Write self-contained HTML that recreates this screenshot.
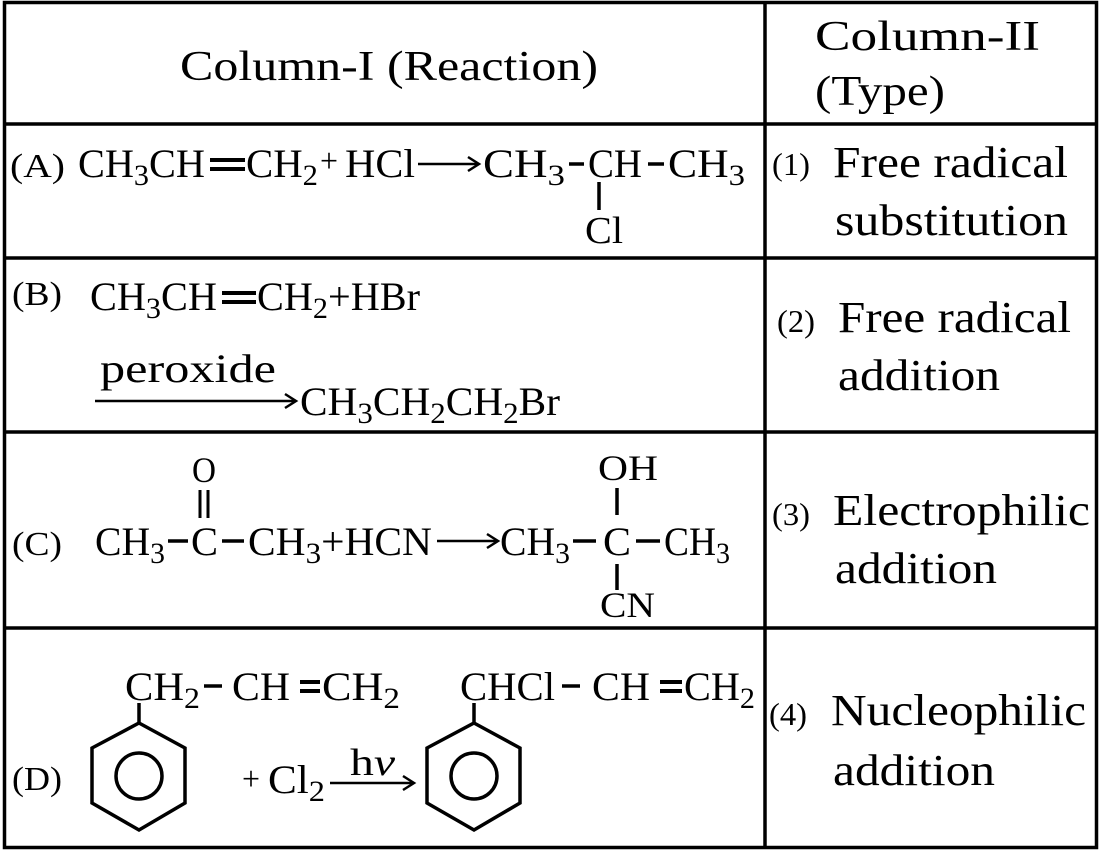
<!DOCTYPE html>
<html><head><meta charset="utf-8"><style>
html,body{margin:0;padding:0;background:#fff;}
svg{display:block;}
text{font-family:"Liberation Serif","Times New Roman",Times,serif;fill:#000;}
</style></head><body>
<svg width="1101" height="851" viewBox="0 0 1101 851" xmlns="http://www.w3.org/2000/svg">
<g stroke="#000" stroke-width="3.5" fill="none">
<rect x="4.5" y="2.5" width="1092" height="845"/>
<line x1="765" y1="2" x2="765" y2="848"/>
<line x1="4" y1="124" x2="1097" y2="124"/>
<line x1="4" y1="258" x2="1097" y2="258"/>
<line x1="4" y1="432" x2="1097" y2="432"/>
<line x1="4" y1="628" x2="1097" y2="628"/>
</g>
<g lengthAdjust="spacingAndGlyphs">
<!-- header -->
<text x="180" y="80" font-size="42" textLength="418" lengthAdjust="spacingAndGlyphs">Column-I (Reaction)</text>
<text x="815" y="50" font-size="42" textLength="225" lengthAdjust="spacingAndGlyphs">Column-II</text>
<text x="815" y="105" font-size="42" textLength="130" lengthAdjust="spacingAndGlyphs">(Type)</text>

<!-- Row A -->
<text x="10" y="177" font-size="34" textLength="55" lengthAdjust="spacingAndGlyphs">(A)</text>
<text x="78" y="177" font-size="40" textLength="127" lengthAdjust="spacingAndGlyphs">CH<tspan font-size="30" dy="8">3</tspan><tspan dy="-8">CH</tspan></text>
<g stroke="#000" stroke-width="4"><line x1="210" y1="160" x2="245" y2="160"/><line x1="210" y1="169" x2="245" y2="169"/></g>
<text x="246" y="177" font-size="40" textLength="72" lengthAdjust="spacingAndGlyphs">CH<tspan font-size="30" dy="8">2</tspan></text>
<text x="320" y="172" font-size="34" textLength="18" lengthAdjust="spacingAndGlyphs">+</text>
<text x="345" y="177" font-size="40" textLength="70" lengthAdjust="spacingAndGlyphs">HCl</text>
<g stroke="#000" stroke-width="2.5"><line x1="418" y1="164" x2="478" y2="164"/><polyline fill="none" points="468,157 479,164 468,171"/></g>
<text x="483" y="177" font-size="40" textLength="82" lengthAdjust="spacingAndGlyphs">CH<tspan font-size="30" dy="8">3</tspan></text>
<line x1="569" y1="164" x2="584" y2="164" stroke="#000" stroke-width="3.5"/>
<text x="588" y="177" font-size="40" textLength="54" lengthAdjust="spacingAndGlyphs">CH</text>
<line x1="648" y1="164" x2="664" y2="164" stroke="#000" stroke-width="3.5"/>
<text x="668" y="177" font-size="40" textLength="77" lengthAdjust="spacingAndGlyphs">CH<tspan font-size="30" dy="8">3</tspan></text>
<line x1="599" y1="182" x2="599" y2="210" stroke="#000" stroke-width="3.5"/>
<text x="585" y="243" font-size="38" textLength="38" lengthAdjust="spacingAndGlyphs">Cl</text>
<text x="772" y="175" font-size="32" textLength="38" lengthAdjust="spacingAndGlyphs">(1)</text>
<text x="833" y="177" font-size="44" textLength="235" lengthAdjust="spacingAndGlyphs">Free radical</text>
<text x="835" y="235" font-size="44" textLength="233" lengthAdjust="spacingAndGlyphs">substitution</text>

<!-- Row B -->
<text x="12" y="305" font-size="34" textLength="50" lengthAdjust="spacingAndGlyphs">(B)</text>
<text x="90" y="310" font-size="40" textLength="127" lengthAdjust="spacingAndGlyphs">CH<tspan font-size="30" dy="8">3</tspan><tspan dy="-8">CH</tspan></text>
<g stroke="#000" stroke-width="4"><line x1="222" y1="293" x2="256" y2="293"/><line x1="222" y1="302" x2="256" y2="302"/></g>
<text x="257" y="310" font-size="40" textLength="163" lengthAdjust="spacingAndGlyphs">CH<tspan font-size="30" dy="8">2</tspan><tspan dy="-8">+HBr</tspan></text>
<text x="100" y="382" font-size="40" textLength="176" lengthAdjust="spacingAndGlyphs">peroxide</text>
<g stroke="#000" stroke-width="2.5"><line x1="95" y1="401" x2="295" y2="401"/><polyline fill="none" points="285,394 296,401 285,408"/></g>
<text x="300" y="415" font-size="40" textLength="260" lengthAdjust="spacingAndGlyphs">CH<tspan font-size="30" dy="8">3</tspan><tspan dy="-8">CH</tspan><tspan font-size="30" dy="8">2</tspan><tspan dy="-8">CH</tspan><tspan font-size="30" dy="8">2</tspan><tspan dy="-8">Br</tspan></text>
<text x="777" y="332" font-size="32" textLength="38" lengthAdjust="spacingAndGlyphs">(2)</text>
<text x="838" y="332" font-size="44" textLength="233" lengthAdjust="spacingAndGlyphs">Free radical</text>
<text x="838" y="390" font-size="44" textLength="162" lengthAdjust="spacingAndGlyphs">addition</text>

<!-- Row C -->
<text x="192" y="482" font-size="36" textLength="24" lengthAdjust="spacingAndGlyphs">O</text>
<g stroke="#000" stroke-width="3"><line x1="200" y1="490" x2="200" y2="518"/><line x1="208" y1="490" x2="208" y2="518"/></g>
<text x="12" y="555" font-size="34" textLength="50" lengthAdjust="spacingAndGlyphs">(C)</text>
<text x="95" y="555" font-size="40" textLength="70" lengthAdjust="spacingAndGlyphs">CH<tspan font-size="30" dy="8">3</tspan></text>
<line x1="168" y1="541" x2="188" y2="541" stroke="#000" stroke-width="3.5"/>
<text x="191" y="555" font-size="40" textLength="27" lengthAdjust="spacingAndGlyphs">C</text>
<line x1="222" y1="541" x2="244" y2="541" stroke="#000" stroke-width="3.5"/>
<text x="248" y="555" font-size="40" textLength="184" lengthAdjust="spacingAndGlyphs">CH<tspan font-size="30" dy="8">3</tspan><tspan dy="-8">+HCN</tspan></text>
<g stroke="#000" stroke-width="2.5"><line x1="437" y1="541" x2="497" y2="541"/><polyline fill="none" points="487,534 498,541 487,548"/></g>
<text x="500" y="555" font-size="40" textLength="70" lengthAdjust="spacingAndGlyphs">CH<tspan font-size="30" dy="8">3</tspan></text>
<line x1="573" y1="541" x2="596" y2="541" stroke="#000" stroke-width="3.5"/>
<text x="603" y="555" font-size="40" textLength="28" lengthAdjust="spacingAndGlyphs">C</text>
<line x1="636" y1="541" x2="660" y2="541" stroke="#000" stroke-width="3.5"/>
<text x="664" y="555" font-size="40" textLength="66" lengthAdjust="spacingAndGlyphs">CH<tspan font-size="30" dy="8">3</tspan></text>
<text x="598" y="480" font-size="36" textLength="60" lengthAdjust="spacingAndGlyphs">OH</text>
<line x1="617" y1="488" x2="617" y2="515" stroke="#000" stroke-width="3.5"/>
<line x1="617" y1="564" x2="617" y2="590" stroke="#000" stroke-width="3.5"/>
<text x="600" y="617" font-size="36" textLength="55" lengthAdjust="spacingAndGlyphs">CN</text>
<text x="772" y="525" font-size="32" textLength="38" lengthAdjust="spacingAndGlyphs">(3)</text>
<text x="833" y="525" font-size="44" textLength="257" lengthAdjust="spacingAndGlyphs">Electrophilic</text>
<text x="835" y="583" font-size="44" textLength="162" lengthAdjust="spacingAndGlyphs">addition</text>

<!-- Row D -->
<text x="125" y="700" font-size="40" textLength="75" lengthAdjust="spacingAndGlyphs">CH<tspan font-size="30" dy="8">2</tspan></text>
<line x1="204" y1="686" x2="222" y2="686" stroke="#000" stroke-width="3.5"/>
<text x="232" y="700" font-size="40" textLength="58" lengthAdjust="spacingAndGlyphs">CH</text>
<g stroke="#000" stroke-width="4"><line x1="300" y1="682" x2="320" y2="682"/><line x1="300" y1="691" x2="320" y2="691"/></g>
<text x="322" y="700" font-size="40" textLength="78" lengthAdjust="spacingAndGlyphs">CH<tspan font-size="30" dy="8">2</tspan></text>
<g stroke="#000" stroke-width="3.5" fill="none">
<line x1="139" y1="703" x2="139" y2="723"/>
<polygon points="139,723 185,748 185,803 139,830 92,803 92,748"/>
<circle cx="139" cy="776" r="23"/>
</g>
<text x="12" y="790" font-size="34" textLength="50" lengthAdjust="spacingAndGlyphs">(D)</text>
<text x="242" y="790" font-size="34" textLength="18" lengthAdjust="spacingAndGlyphs">+</text>
<text x="268" y="793" font-size="40" textLength="57" lengthAdjust="spacingAndGlyphs">Cl<tspan font-size="30" dy="8">2</tspan></text>
<text x="350" y="775" font-size="38" textLength="45" lengthAdjust="spacingAndGlyphs">h<tspan font-style="italic">ν</tspan></text>
<g stroke="#000" stroke-width="2.5"><line x1="330" y1="783" x2="413" y2="783"/><polyline fill="none" points="403,776 414,783 403,790"/></g>
<text x="460" y="700" font-size="40" textLength="95" lengthAdjust="spacingAndGlyphs">CHCl</text>
<line x1="562" y1="686" x2="580" y2="686" stroke="#000" stroke-width="3.5"/>
<text x="592" y="700" font-size="40" textLength="58" lengthAdjust="spacingAndGlyphs">CH</text>
<g stroke="#000" stroke-width="4"><line x1="660" y1="682" x2="682" y2="682"/><line x1="660" y1="691" x2="682" y2="691"/></g>
<text x="684" y="700" font-size="40" textLength="71" lengthAdjust="spacingAndGlyphs">CH<tspan font-size="30" dy="8">2</tspan></text>
<g stroke="#000" stroke-width="3.5" fill="none">
<line x1="474" y1="703" x2="474" y2="723"/>
<polygon points="474,723 520,748 520,803 474,830 427,803 427,748"/>
<circle cx="474" cy="776" r="23"/>
</g>
<text x="769" y="725" font-size="32" textLength="38" lengthAdjust="spacingAndGlyphs">(4)</text>
<text x="831" y="725" font-size="44" textLength="255" lengthAdjust="spacingAndGlyphs">Nucleophilic</text>
<text x="833" y="785" font-size="44" textLength="162" lengthAdjust="spacingAndGlyphs">addition</text>
</g>
</svg>
</body></html>
